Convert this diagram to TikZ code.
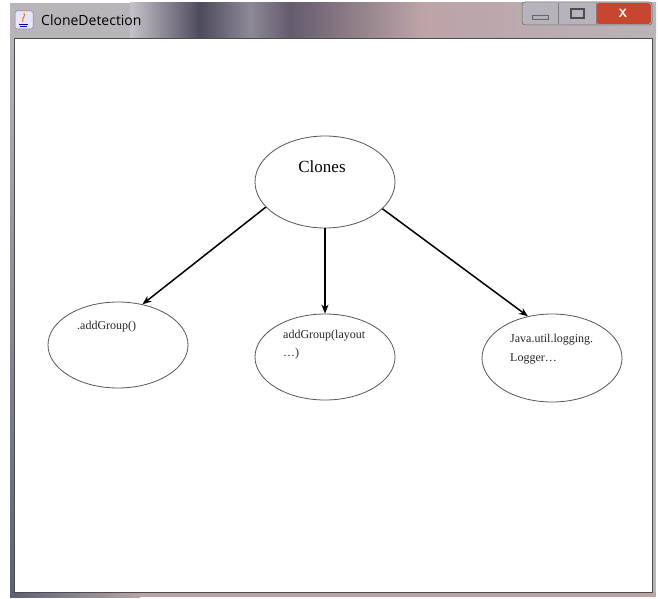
\documentclass[tikz,border=0pt]{standalone}
\usepackage{fontspec}
\setmainfont{Liberation Serif}
\newfontfamily\uifont{Open Sans}
\usetikzlibrary{shapes.geometric,arrows.meta}
\definecolor{framegray}{HTML}{B9B3BA}
\definecolor{framedark}{HTML}{4E4A5E}
\definecolor{framepink}{HTML}{BCA3A6}
\definecolor{borderblue}{HTML}{5A6078}
\definecolor{closered}{HTML}{C8452F}
\definecolor{btngray}{HTML}{B7B2BC}
\definecolor{outline}{HTML}{555555}
\tikzset{
  blob/.style={ellipse, draw=outline, line width=0.8pt, minimum width=140pt, minimum height=88pt, inner sep=0pt},
  lbl/.style={anchor=base west, inner sep=0pt, font=\fontsize{12pt}{14pt}\selectfont, text=black!85},
  arr/.style={-{Stealth[length=9pt,width=7pt]}, line width=1.5pt},
}
\begin{document}
\begin{tikzpicture}[x=1pt,y=-1pt]
\useasboundingbox (0,0) rectangle (658,599);
\fill[white] (0,0) rectangle (658,599);
% window frame
\fill[framegray] (10,3) rectangle (656,597);
\shade[left color=framegray!80!white, right color=framedark] (130,3) rectangle (200,38);
\shade[left color=framedark, right color=framegray!60!framedark] (200,3) rectangle (250,38);
\shade[left color=framegray!60!framedark, right color=framedark!80!framepink] (250,3) rectangle (290,38);
\shade[left color=framedark!80!framepink, right color=framepink] (290,3) rectangle (420,38);
\shade[left color=framepink, right color=framegray] (420,3) rectangle (656,38);
\shade[top color=framegray, bottom color=borderblue] (10,38) rectangle (14,597);
\shade[left color=borderblue, right color=framepink] (10,592) rectangle (140,597);
\fill[framepink] (140,592) rectangle (656,597);
% content area
\filldraw[fill=white, draw=black!70, line width=0.6pt] (14,38) rectangle (652,592);
% title
\node[anchor=west, inner sep=0pt, font=\uifont\fontsize{14pt}{16pt}\selectfont] (title) at (41,20) {CloneDetection};
% java icon
\filldraw[fill=white!90!blue, draw=black!50, line width=0.5pt, rounded corners=1.5pt] (15,11) rectangle (33,29);
\draw[orange!90!red, line width=1pt] (23,22) .. controls (21,18) and (26,17) .. (24,13);
\draw[blue!60!black, line width=0.8pt] (19,24) -- (28,24) (20,26.5) -- (27,26.5);
% window buttons
\filldraw[fill=btngray, draw=black!60, line width=0.5pt, rounded corners=3pt] (522,2) rectangle (652,25);
\fill[closered, rounded corners=3pt] (596,3) rectangle (651,24);
\draw[black!50, line width=0.5pt] (558,3) -- (558,24) (596,3) -- (596,24);
\fill[white!70!black] (532,15) rectangle (548,19);
\draw[black!60, line width=0.5pt] (532,15) rectangle (548,19);
\draw[black!70, line width=1.2pt] (571,9) rectangle (584,18);
\node[inner sep=0pt, text=white, font=\sffamily\bfseries\fontsize{12pt}{12pt}\selectfont] (close) at (623,13) {X};
% diagram
\node[blob, minimum height=92pt] (clones) at (325,182) {};
\node[anchor=base, inner sep=0pt, font=\fontsize{17pt}{20pt}\selectfont] (clonestxt) at (322,172) {Clones};
\node[blob, minimum height=86pt] (left) at (118,345) {};
\node[blob, minimum height=86pt] (mid) at (325,357) {};
\node[blob, minimum height=88pt] (right) at (552,358) {};
\node[lbl] (ltxt) at (77,329) {.addGroup()};
\node[lbl] (mtxt1) at (283,338) {addGroup(layout};
\node[lbl] (mtxt2) at (283,356) {\dots)};
\node[lbl] (rtxt1) at (510,342) {Java.util.logging.};
\node[lbl] (rtxt2) at (510,361) {Logger\dots};
\draw[arr] (clones.203) -- (left.59);
\draw[arr] (clones.south) -- (mid.north);
\draw[arr] (clones.335) -- (right.120);
\end{tikzpicture}
\end{document}
